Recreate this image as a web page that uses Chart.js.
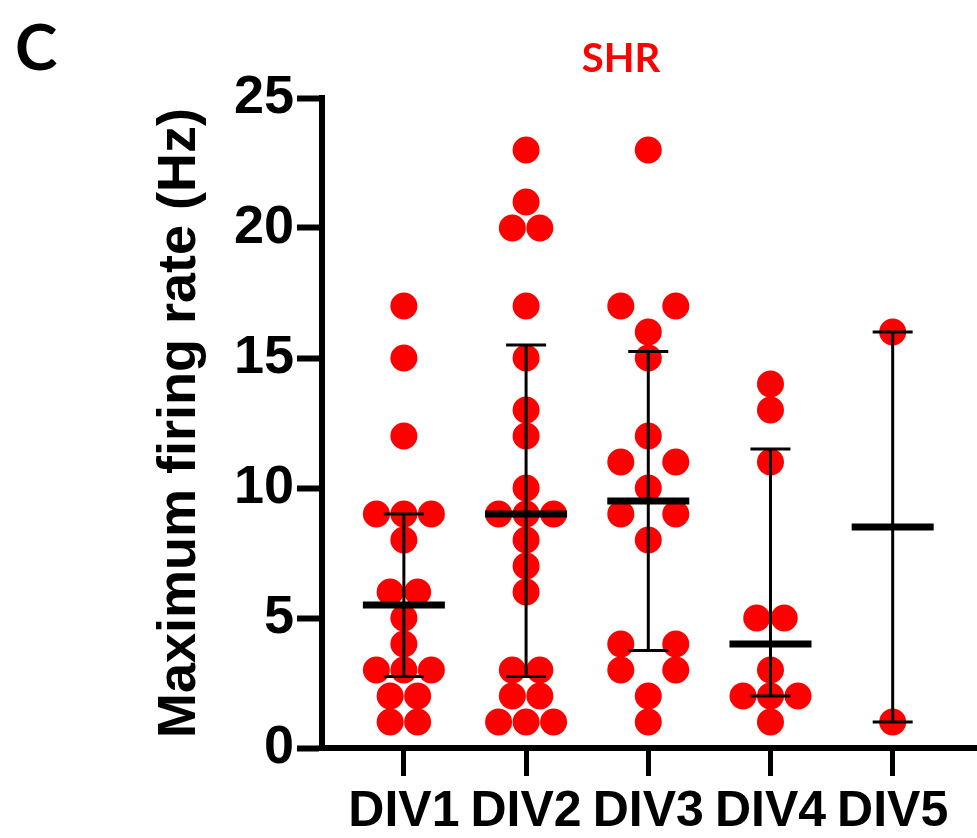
<!DOCTYPE html>
<html>
<head>
<meta charset="utf-8">
<script src="https://cdn.jsdelivr.net/npm/chart.js@4.4.1/dist/chart.umd.min.js"></script>
<style>
  html, body { margin: 0; padding: 0; background: #fff; overflow: hidden; }
  #wrap { width: 977px; height: 838px; }
  canvas { display: block; }
</style>
</head>
<body>
<div id="wrap"><canvas id="firing-chart"></canvas></div>
<script>
var categories = ['DIV1', 'DIV2', 'DIV3', 'DIV4', 'DIV5'];
var div1 = [17, 15, 12, 9, 9, 9, 8, 6, 6, 5, 4, 3, 3, 3, 2, 2, 1, 1];
var div2 = [23, 21, 20, 20, 17, 15, 13, 12, 10, 9, 9, 9, 8, 7, 6, 3, 3, 2, 2, 1, 1, 1];
var div3 = [23, 17, 17, 16, 15, 12, 11, 11, 10, 9, 9, 8, 4, 4, 3, 3, 2, 1];
var div4 = [14, 13, 11, 5, 5, 3, 2, 2, 2, 1];
var div5 = [16, 1];
var yTicks = [0, 5, 10, 15, 20, 25];

var groups = [div1, div2, div3, div4, div5];
var red = '#ff0000';
var jitter = 0.225;              // horizontal spacing of tied values, in category units
var tieSpread = [1, 1, 2, 1, 1]; // DIV3 pairs sit a full dot apart

// spread tied values side by side around the category centre
function swarm(values, center, spread) {
  var counts = {}, seen = {};
  values.forEach(function(v) { counts[v] = (counts[v] || 0) + 1; });
  return values.map(function(v) {
    var k = seen[v] || 0;
    seen[v] = k + 1;
    var step = counts[v] === 2 ? jitter * spread : jitter;
    return { x: center + (k - (counts[v] - 1) / 2) * step, y: v };
  });
}

// quantile using the (n+1)p position, clamped to the data range
function quantile(values, p) {
  var s = values.slice().sort(function(a, b) { return a - b; });
  var pos = (s.length + 1) * p;
  if (pos <= 1) return s[0];
  if (pos >= s.length) return s[s.length - 1];
  var lo = Math.floor(pos);
  return s[lo - 1] + (pos - lo) * (s[lo] - s[lo - 1]);
}

var summary = groups.map(function(g) {
  return { q1: quantile(g, 0.25), med: quantile(g, 0.5), q3: quantile(g, 0.75) };
});

// median line with interquartile error bar on top of each column
var medianBars = {
  id: 'medianBars',
  afterDatasetsDraw: function(chart) {
    var ctx = chart.ctx, xs = chart.scales.x, ys = chart.scales.y;
    ctx.save();
    ctx.strokeStyle = '#000';
    ctx.lineCap = 'butt';
    summary.forEach(function(s, i) {
      var x = xs.getPixelForValue(i + 1);
      var y1 = ys.getPixelForValue(s.q1), y3 = ys.getPixelForValue(s.q3);
      var ym = ys.getPixelForValue(s.med);
      ctx.lineWidth = 3;
      ctx.beginPath();
      ctx.moveTo(x, y1); ctx.lineTo(x, y3);
      ctx.moveTo(x - 20, y1); ctx.lineTo(x + 20, y1);
      ctx.moveTo(x - 20, y3); ctx.lineTo(x + 20, y3);
      ctx.stroke();
      ctx.lineWidth = 7;
      ctx.beginPath();
      ctx.moveTo(x - 41, ym); ctx.lineTo(x + 41, ym);
      ctx.stroke();
    });
    ctx.restore();
  }
};

// panel letter and group heading
var headings = {
  id: 'headings',
  afterDraw: function(chart) {
    var ctx = chart.ctx;
    ctx.save();
    ctx.textBaseline = 'alphabetic';
    ctx.fillStyle = '#000';
    ctx.textAlign = 'left';
    ctx.font = 'bold 64px Lato';
    ctx.fillText('C', 15, 70);
    ctx.fillStyle = red;
    ctx.textAlign = 'center';
    ctx.font = 'bold 40px Lato';
    ctx.fillText('SHR', 621, 72);
    ctx.restore();
  }
};

var datasets = groups.map(function(g, i) {
  return {
    label: categories[i],
    data: swarm(g, i + 1, tieSpread[i]),
    backgroundColor: red,
    borderWidth: 0,
    pointRadius: 13.5,
    pointHoverRadius: 13.5
  };
});

var ctx = document.getElementById('firing-chart');
var firingChart = new Chart(ctx, {
  type: 'scatter',
  data: { datasets: datasets },
  plugins: [medianBars, headings],
  options: {
    responsive: true,
    maintainAspectRatio: false,
    animation: false,
    layout: { autoPadding: false, padding: { top: 98, left: 148, right: 0, bottom: 0 } },
    plugins: {
      legend: { display: false },
      tooltip: { enabled: false }
    },
    scales: {
      x: {
        type: 'linear',
        min: 0.33,
        max: 5.69,
        afterBuildTicks: function(scale) {
          scale.ticks = categories.map(function(c, i) { return { value: i + 1 }; });
        },
        afterFit: function(scale) {
          scale.height = 90;
          scale.paddingLeft = 0;
          scale.paddingRight = 0;
        },
        grid: { drawOnChartArea: false, tickLength: 28, tickWidth: 5, tickColor: '#000' },
        border: { display: true, width: 6, color: '#000' },
        ticks: {
          color: '#000',
          padding: 6,
          maxRotation: 0,
          autoSkip: false,
          font: { family: '"Liberation Sans", Arial', weight: 'bold', size: 50 },
          callback: function(v) { return categories[v - 1] || ''; }
        }
      },
      y: {
        min: 0,
        max: 25,
        afterBuildTicks: function(scale) {
          scale.ticks = yTicks.map(function(v) { return { value: v }; });
        },
        afterFit: function(scale) { scale.width = 174; },
        grid: { drawOnChartArea: false, tickLength: 25, tickWidth: 6, tickColor: '#000' },
        border: { display: true, width: 6, color: '#000' },
        ticks: {
          color: '#000',
          padding: 3,
          font: { family: '"Liberation Sans", Arial', weight: 'bold', size: 54 }
        },
        title: {
          display: true,
          text: 'Maximum firing rate (Hz)',
          color: '#000',
          padding: 0,
          font: { family: '"Liberation Sans", Arial', weight: 'bold', size: 54, lineHeight: 1.2 }
        }
      }
    }
  }
});
</script>
</body>
</html>
